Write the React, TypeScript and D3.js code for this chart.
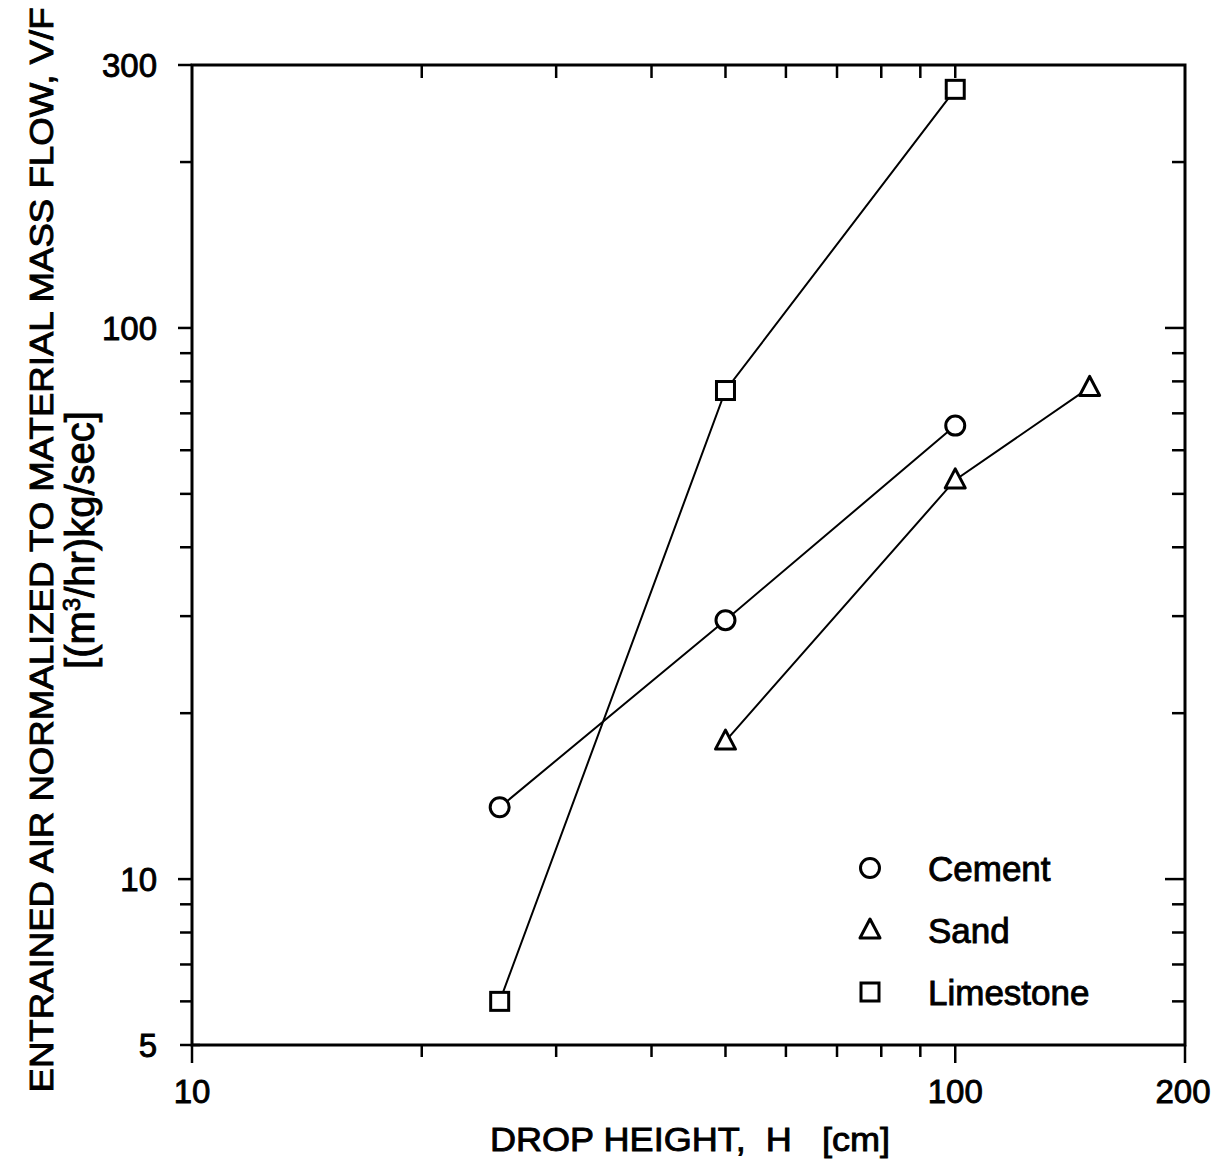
import React from "react";
import * as d3 from "d3";

const cementX = [25.3, 50, 100];
const cementY = [13.5, 29.5, 66.5];
const sandX = [50, 100, 150];
const sandY = [17.8, 53, 78];
const limeX = [25.3, 50, 100];
const limeY = [6.0, 77, 271];

const xMinorTicks = [20, 30, 40, 50, 60, 70, 80, 90];
const xMajorTicks = [10, 100, 200];
const xTickLabels = ["10", "100", "200"];
const yMinorTicks = [6, 7, 8, 9, 20, 30, 40, 50, 60, 70, 80, 90, 200];
const yMajorTicks = [5, 10, 100, 300];
const yTickLabels = ["5", "10", "100", "300"];
const legendNames = ["Cement", "Sand", "Limestone"];

const W = 1219, H = 1162;
const L = 192, R = 1185, T = 65, B = 1045;
const FONT = "'Liberation Sans', Arial, Helvetica, sans-serif";
const TS = { stroke: "black", strokeWidth: 0.9 };

export default function App() {
  const x = d3.scaleLog().domain([10, 200]).range([L, R]);
  const y = d3.scaleLog().domain([5, 300]).range([B, T]);
  const line = d3.line<[number, number]>().x(d => x(d[0])).y(d => y(d[1]));
  const pts = (xs: number[], ys: number[]) => xs.map((v, i) => [v, ys[i]] as [number, number]);

  const circle = (cx: number, cy: number, k: string) => (
    <circle key={k} cx={cx} cy={cy} r={9.5} fill="white" stroke="black" strokeWidth={3} />
  );
  const tri = (cx: number, cy: number, k: string) => (
    <path key={k} d={`M${cx},${cy - 11} L${cx + 10},${cy + 8} L${cx - 10},${cy + 8} Z`} fill="white" stroke="black" strokeWidth={3} strokeLinejoin="round" />
  );
  const sq = (cx: number, cy: number, k: string) => (
    <rect key={k} x={cx - 9} y={cy - 9} width={18} height={18} fill="white" stroke="black" strokeWidth={3} />
  );

  const series = [
    { xs: cementX, ys: cementY, m: circle },
    { xs: sandX, ys: sandY, m: tri },
    { xs: limeX, ys: limeY, m: sq },
  ];

  return (
    <svg width={W} height={H} style={{ position: "absolute", left: 0, top: 0, background: "white" }} fontFamily={FONT}>
      <rect x={0} y={0} width={W} height={H} fill="white" />
      <rect x={L} y={T} width={R - L} height={B - T} fill="none" stroke="black" strokeWidth={3} />
      {xMinorTicks.map(v => (
        <g key={"xm" + v}>
          <line x1={x(v)} x2={x(v)} y1={B} y2={B + 12} stroke="black" strokeWidth={2.5} />
          <line x1={x(v)} x2={x(v)} y1={T} y2={T + 13} stroke="black" strokeWidth={2.5} />
        </g>
      ))}
      {xMajorTicks.map((v, i) => (
        <g key={"xM" + v}>
          <line x1={x(v)} x2={x(v)} y1={B} y2={B + 18} stroke="black" strokeWidth={2.5} />
          {v !== 200 && v !== 10 && <line x1={x(v)} x2={x(v)} y1={T} y2={T + 13} stroke="black" strokeWidth={2.5} />}
          <text x={v === 200 ? x(v) - 2 : x(v)} y={1103} fontSize={33} textAnchor="middle" {...TS}>{xTickLabels[i]}</text>
        </g>
      ))}
      {yMinorTicks.map(v => (
        <g key={"ym" + v}>
          <line x1={L - 12} x2={L} y1={y(v)} y2={y(v)} stroke="black" strokeWidth={2.5} />
          <line x1={R - 13} x2={R} y1={y(v)} y2={y(v)} stroke="black" strokeWidth={2.5} />
        </g>
      ))}
      {yMajorTicks.map((v, i) => (
        <g key={"yM" + v}>
          <line x1={L - (v === 5 ? 12 : 14)} x2={v === 5 ? L + 8 : L} y1={y(v)} y2={y(v)} stroke="black" strokeWidth={2.5} />
          {(v === 10 || v === 100) && <line x1={R - 20} x2={R} y1={y(v)} y2={y(v)} stroke="black" strokeWidth={2.5} />}
          <text x={157} y={y(v) + 12} fontSize={33} textAnchor="end" {...TS}>{yTickLabels[i]}</text>
        </g>
      ))}
      {series.map((s, i) => (
        <path key={"l" + i} d={line(pts(s.xs, s.ys)) || ""} fill="none" stroke="black" strokeWidth={2} />
      ))}
      {series.map((s, i) => s.xs.map((v, j) => s.m(x(v), y(s.ys[j]), `m${i}-${j}`)))}
      {series.map((s, i) => (
        <g key={"lg" + i}>
          {s.m(870, 868 + i * 62, "lgm" + i)}
          <text x={928} y={881 + i * 62} fontSize={35} {...TS}>{legendNames[i]}</text>
        </g>
      ))}
      <text x={690} y={1151} fontSize={34} textAnchor="middle" xmlSpace="preserve" textLength={400} lengthAdjust="spacingAndGlyphs" {...TS}>DROP HEIGHT,  H   [cm]</text>
      <text transform={`translate(53,550) rotate(-90)`} fontSize={33} textAnchor="middle" textLength={1085} lengthAdjust="spacingAndGlyphs" {...TS}>ENTRAINED AIR NORMALIZED TO MATERIAL MASS FLOW, V/F</text>
      <text transform={`translate(94,540) rotate(-90)`} fontSize={40} textAnchor="middle" {...TS}>
        [(m<tspan dy={-14} fontSize={24}>3</tspan><tspan dy={14}>/hr)kg/sec]</tspan>
      </text>
    </svg>
  );
}
